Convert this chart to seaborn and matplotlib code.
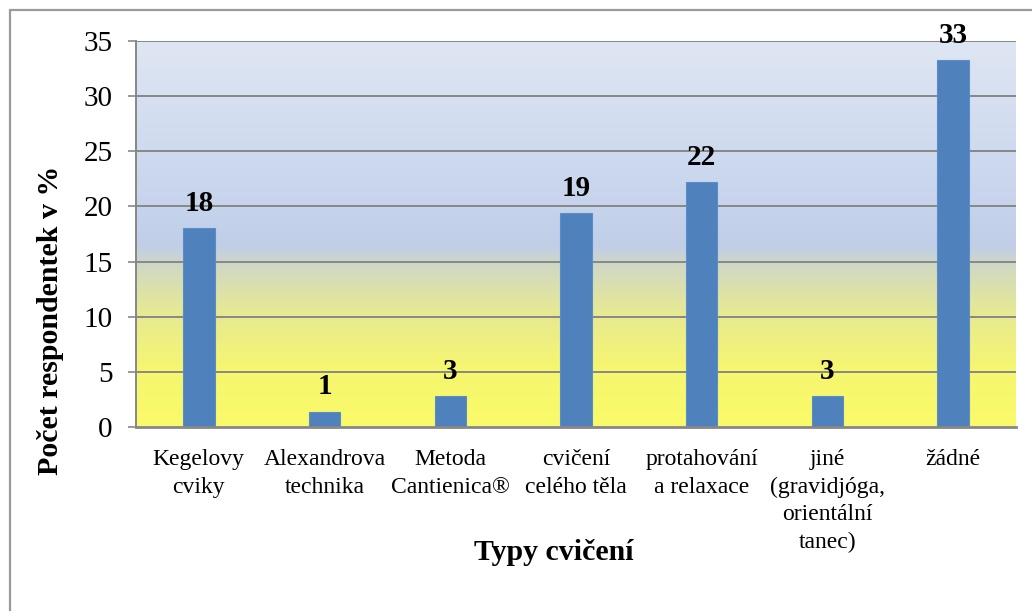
import numpy as np
import pandas as pd
import matplotlib
matplotlib.use("Agg")
import matplotlib.pyplot as plt
from matplotlib.colors import LinearSegmentedColormap
from matplotlib.lines import Line2D
import seaborn as sns

# Data
categories = [
    "Kegelovy\ncviky",
    "Alexandrova\ntechnika",
    "Metoda\nCantienica®",
    "cvičení\ncelého těla",
    "protahování\na relaxace",
    "jiné\n(gravidjóga,\norientální\ntanec)",
    "žádné",
]
values = [18.0, 1.4, 2.8, 19.4, 22.2, 2.8, 33.3]
y_ticks = [0, 5, 10, 15, 20, 25, 30, 35]
x_title = "Typy cvičení"
y_title = "Počet respondentek v %"

df = pd.DataFrame({"kategorie": categories, "hodnota": values})

sns.set_theme(style="white")
serif = "Liberation Serif"
plt.rcParams["font.family"] = [serif, "DejaVu Serif"]
plt.rcParams["font.serif"] = [serif, "DejaVu Serif"]
plt.rcParams["text.color"] = "black"

W, H = 1032, 611
fig = plt.figure(figsize=(W / 100, H / 100), dpi=100)
ax = fig.add_axes([136 / W, 1 - 427 / H, (1016 - 136) / W, (427 - 41) / H])

bar_color = "#4f81bd"
sns.barplot(data=df, x="kategorie", y="hodnota", color=bar_color, width=0.25,
            saturation=1, edgecolor="#5b8dca", linewidth=0.8, ax=ax, zorder=3)

ax.set_ylim(0, 35)
ax.set_xlim(-0.5, len(categories) - 0.5)

# Gradient background of the plot area (yellow at bottom, blue at top)
stops = [
    (0.00, (250, 250, 105)),
    (0.15, (246, 246, 112)),
    (0.30, (230, 233, 148)),
    (0.42, (208, 216, 196)),
    (0.47, (192, 206, 232)),
    (0.60, (200, 213, 237)),
    (1.00, (223, 230, 243)),
]
cmap = LinearSegmentedColormap.from_list(
    "bg", [(p, tuple(c / 255 for c in rgb)) for p, rgb in stops])
grad = np.linspace(0, 1, 256).reshape(-1, 1)
ax.imshow(grad, cmap=cmap, origin="lower", aspect="auto",
          extent=(-0.5, len(categories) - 0.5, 0, 35), zorder=0)

# Horizontal grid lines
grid_color = "#878787"
for t in y_ticks[1:]:
    ax.axhline(t, color=grid_color, lw=1.4, zorder=1)

ax.set_yticks(y_ticks)
ax.set_yticklabels([str(t) for t in y_ticks])
ax.set_xticks(range(len(categories)))
ax.set_xticklabels(categories, linespacing=1.4, ha="center")
ax.tick_params(axis="y", which="major", left=True, length=6, width=1.2,
               color=grid_color, pad=11, labelsize=21, labelcolor="black",
               labelfontfamily=serif)
ax.tick_params(axis="x", bottom=False, length=0, pad=16, labelsize=17,
               labelcolor="black", labelfontfamily=serif)

for side in ["top", "right"]:
    ax.spines[side].set_visible(False)
ax.spines["left"].set_color(grid_color)
ax.spines["left"].set_linewidth(1.4)
ax.spines["bottom"].set_color(grid_color)
ax.spines["bottom"].set_linewidth(2.0)
ax.spines["left"].set_zorder(4)
ax.spines["bottom"].set_zorder(4)

ax.set_xlabel("")
ax.set_ylabel("")

# Value labels above bars
for i, v in enumerate(values):
    ax.annotate(f"{v:.0f}", (i, v), xytext=(0, 8), textcoords="offset points",
                ha="center", va="bottom", fontsize=21, fontweight="bold",
                color="black", family=serif, zorder=5)

# Axis titles
fig.text(554 / W, 1 - 552 / H, x_title, ha="center", va="center",
         fontsize=21.5, fontweight="bold", color="black", family=serif)
fig.text(51 / W, 1 - 320 / H, y_title, ha="center", va="center",
         rotation=90, fontsize=21.5, fontweight="bold", color="black",
         family=serif)

# Outer chart frame
frame_color = "#9a9a9a"
fig.add_artist(Line2D([9.5 / W, 9.5 / W], [0, 1 - 10 / H],
                      transform=fig.transFigure, color=frame_color, lw=1.6))
fig.add_artist(Line2D([9.5 / W, 1], [1 - 10 / H, 1 - 10 / H],
                      transform=fig.transFigure, color=frame_color, lw=1.6))

fig.savefig("out.png", dpi=100)
